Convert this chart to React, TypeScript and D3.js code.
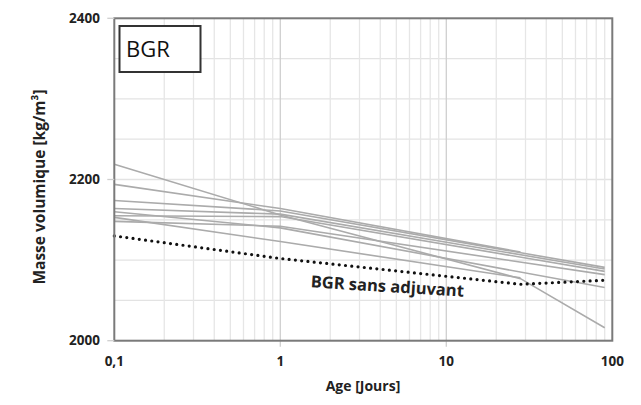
import React from "react";
import * as d3 from "d3";

const xTickValues = [0.1, 1, 10, 100];
const xTickLabels = ["0,1", "1", "10", "100"];
const yTickValues = [2000, 2200, 2400];
const yGridValues = [2000, 2050, 2100, 2150, 2200, 2250, 2300, 2350, 2400];

type Pt = [number, number];
const series: Pt[][] = [
  [[0.1, 2219], [1, 2156], [28, 2077], [90, 2016]],
  [[0.1, 2194], [1, 2164], [28, 2110]],
  [[0.1, 2174], [1, 2161], [90, 2091]],
  [[0.1, 2164], [1, 2157], [90, 2089]],
  [[0.1, 2155], [1, 2154], [90, 2086]],
  [[0.1, 2148], [1, 2142], [90, 2082]],
  [[0.1, 2153], [1, 2123], [28, 2078]],
  [[0.1, 2160], [1, 2140], [90, 2066]],
];
const reference: Pt[] = [[0.1, 2130], [1, 2102], [28, 2070], [90, 2075]];
const referenceLabel = "BGR sans adjuvant";
const panelLabel = "BGR";
const xTitle = "Age [Jours]";
const yTitle = "Masse volumique [kg/m³]";

export default function App() {
  const W = 641, H = 405;
  const left = 114.3, right = 612.3, top = 18.3, bottom = 340.7;
  const x = d3.scaleLog().domain([0.1, 100]).range([left, right]);
  const y = d3.scaleLinear().domain([2000, 2400]).range([bottom, top]);
  const line = d3.line<Pt>().x(d => x(d[0])).y(d => y(d[1]));

  const minor: number[] = [];
  for (const dec of [0.1, 1, 10]) for (let k = 2; k <= 9; k++) minor.push(dec * k);

  const font = "'Open Sans', 'DejaVu Sans', sans-serif";
  return (
    <svg width={W} height={H} style={{ position: "absolute", left: 0, top: 0 }}>
      <rect x={0} y={0} width={W} height={H} fill="#fff" />
      {yGridValues.map(v => (
        <line key={"hy" + v} x1={left} x2={right} y1={y(v)} y2={y(v)} stroke="#e3e3e3" strokeWidth={1.3} />
      ))}
      {minor.map(v => (
        <line key={"mx" + v} x1={x(v)} x2={x(v)} y1={top} y2={bottom} stroke="#e6e6e6" strokeWidth={1.3} />
      ))}
      {[1, 10].map(v => (
        <line key={"Mx" + v} x1={x(v)} x2={x(v)} y1={top} y2={bottom + 6} stroke="#cfcfcf" strokeWidth={1.3} />
      ))}
      {series.map((s, i) => (
        <path key={"s" + i} d={line(s) || ""} fill="none" stroke="#ababab" strokeWidth={1.6} />
      ))}
      <path d={line(reference) || ""} fill="none" stroke="#111" strokeWidth={3.2}
        strokeDasharray="0 6.3" strokeLinecap="round" />
      <rect x={left} y={top} width={right - left} height={bottom - top} fill="none" stroke="#7a7a7a" strokeWidth={2} />
      {yTickValues.map(v => (
        <g key={"yt" + v}>
          <line x1={left - 7} x2={left} y1={y(v)} y2={y(v)} stroke="#cfcfcf" strokeWidth={1.3} />
          <text x={100} y={y(v)} dy="0.35em" textAnchor="end" fontFamily={font} fontWeight="bold" fontSize={13.5} fill="#222">{v}</text>
        </g>
      ))}
      {xTickValues.map((v, i) => (
        <text key={"xt" + v} x={x(v)} y={366} textAnchor="middle" fontFamily={font} fontWeight="bold" fontSize={13.5} fill="#222">{xTickLabels[i]}</text>
      ))}
      <text x={363} y={391} textAnchor="middle" fontFamily={font} fontWeight="bold" fontSize={14} fill="#222">{xTitle}</text>
      <text transform="translate(45,187) rotate(-90)" textAnchor="middle" fontFamily={font} fontWeight="bold" fontSize={15.5} fill="#222">{yTitle}</text>
      <rect x={119.5} y={26} width={81} height={46} fill="#fff" stroke="#333" strokeWidth={2} />
      <text x={126} y={57} fontFamily={font} fontSize={22} fill="#111">{panelLabel}</text>
      <text transform="translate(387,292) rotate(3.5)" textAnchor="middle" fontFamily={font} fontWeight="bold" fontSize={16.5} fill="#222">{referenceLabel}</text>
    </svg>
  );
}
